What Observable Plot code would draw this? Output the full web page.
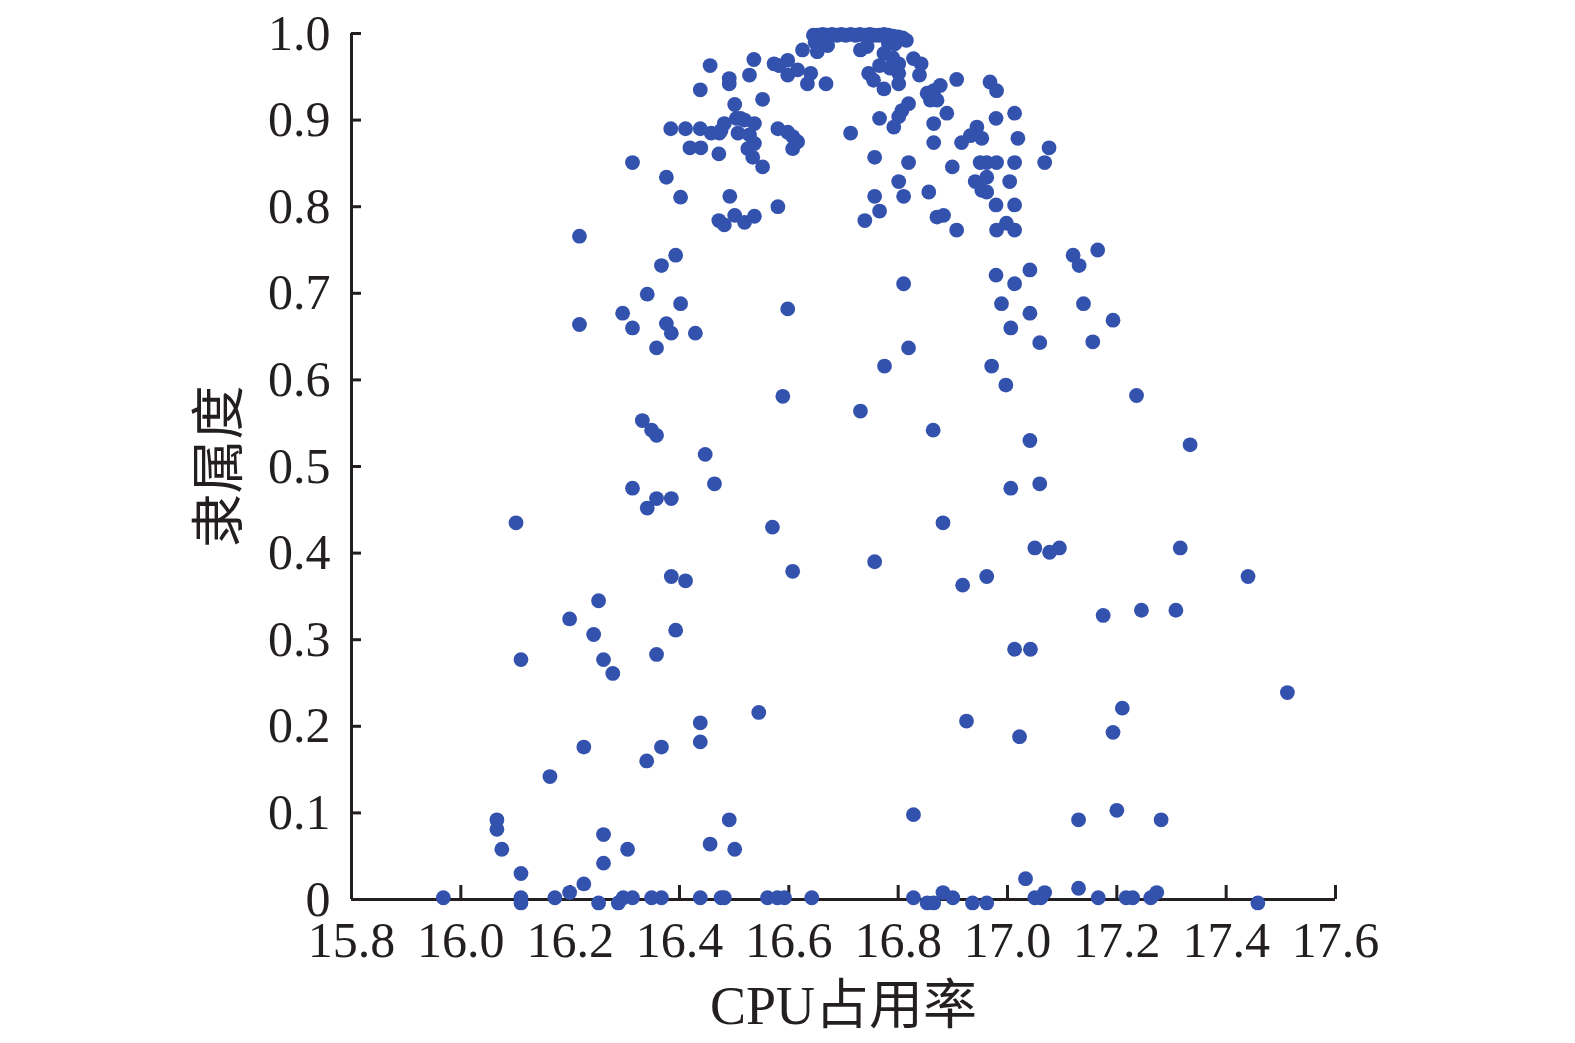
<!DOCTYPE html>
<html>
<head>
<meta charset="utf-8">
<script src="https://cdn.jsdelivr.net/npm/d3@7"></script>
<script src="https://cdn.jsdelivr.net/npm/@observablehq/plot@0.6"></script>
<style>
  html, body { margin: 0; padding: 0; background: #ffffff; }
  #chart svg [aria-label="x-axis label"] text,
  #chart svg [aria-label="y-axis label"] text { font-size: 54px; }
</style>
</head>
<body>
<div id="chart"></div>
<script>
const xLabel = "CPU占用率";
const yLabel = "隶属度";
const xTicks = [15.8, 16.0, 16.2, 16.4, 16.6, 16.8, 17.0, 17.2, 17.4, 17.6];
const xTickLabels = ["15.8", "16.0", "16.2", "16.4", "16.6", "16.8", "17.0", "17.2", "17.4", "17.6"];
const yTicks = [0, 0.1, 0.2, 0.3, 0.4, 0.5, 0.6, 0.7, 0.8, 0.9, 1.0];
const yTickLabels = ["0", "0.1", "0.2", "0.3", "0.4", "0.5", "0.6", "0.7", "0.8", "0.9", "1.0"];

// CPU usage (x) and membership degree (y)
const cpu = [
  15.968, 16.066, 16.066, 16.075, 16.101, 16.110, 16.110, 16.110, 16.110, 16.163,
  16.172, 16.199, 16.199, 16.217, 16.217, 16.225, 16.225, 16.243, 16.252, 16.252,
  16.261, 16.261, 16.261, 16.278, 16.288, 16.296, 16.297, 16.305, 16.314, 16.314,
  16.314, 16.314, 16.332, 16.341, 16.341, 16.340, 16.349, 16.358, 16.358, 16.358,
  16.358, 16.349, 16.367, 16.367, 16.367, 16.376, 16.376, 16.385, 16.384, 16.385,
  16.385, 16.393, 16.393, 16.402, 16.402, 16.411, 16.411, 16.419, 16.429, 16.438,
  16.438, 16.439, 16.438, 16.438, 16.438, 16.447, 16.456, 16.458, 16.456, 16.464,
  16.472, 16.473, 16.472, 16.476, 16.476, 16.482, 16.482, 16.482, 16.491, 16.491,
  16.492, 16.491, 16.501, 16.501, 16.501, 16.504, 16.507, 16.512, 16.519, 16.519,
  16.525, 16.528, 16.528, 16.534, 16.536, 16.537, 16.537, 16.537, 16.545, 16.552,
  16.552, 16.561, 16.570, 16.573, 16.579, 16.580, 16.580, 16.582, 16.589, 16.592,
  16.598, 16.598, 16.598, 16.598, 16.607, 16.607, 16.607, 16.616, 16.616, 16.625,
  16.634, 16.640, 16.642, 16.652, 16.668, 16.671,
  16.645, 16.653, 16.662, 16.670, 16.679, 16.688, 16.696, 16.704, 16.713, 16.722,
  16.730, 16.739, 16.748, 16.756, 16.765, 16.774, 16.782, 16.791, 16.800, 16.808,
  16.815, 16.731, 16.743, 16.648, 16.660, 16.782, 16.794,
  16.713, 16.731, 16.739, 16.746, 16.755, 16.757, 16.757, 16.757, 16.766, 16.766,
  16.766, 16.774, 16.774, 16.775, 16.785, 16.790, 16.792, 16.801, 16.801, 16.801,
  16.801, 16.801, 16.807, 16.810, 16.810, 16.819, 16.819, 16.819, 16.828, 16.828,
  16.828, 16.839, 16.842, 16.853, 16.853, 16.856, 16.859, 16.864, 16.865, 16.865,
  16.865, 16.865, 16.871, 16.871, 16.877, 16.882, 16.882, 16.883, 16.889, 16.899,
  16.900, 16.907, 16.907, 16.916, 16.918, 16.925, 16.932, 16.936, 16.941, 16.944,
  16.950, 16.953, 16.953, 16.962, 16.962, 16.962, 16.962, 16.962, 16.968, 16.971,
  16.979, 16.979, 16.979, 16.980, 16.980, 16.980, 16.989, 16.997, 16.998, 17.004,
  17.006, 17.006, 17.013, 17.019, 17.013, 17.013, 17.013, 17.013, 17.013, 17.022,
  17.033, 17.041, 17.041, 17.041, 17.042, 17.050, 17.050, 17.059, 17.059, 17.061,
  17.068, 17.068, 17.076, 17.077, 17.095, 17.120, 17.131, 17.130, 17.130, 17.139,
  17.156, 17.165, 17.166, 17.175, 17.193, 17.193, 17.200, 17.210, 17.217, 17.229,
  17.236, 17.245, 17.262, 17.273, 17.281, 17.308, 17.316, 17.334, 17.440, 17.458,
  17.512
];
const membership = [
  0.002, 0.092, 0.081, 0.058, 0.435, 0.277, 0.030, 0.002, -0.004, 0.142,
  0.002, 0.324, 0.008, 0.766, 0.664, 0.176, 0.018, 0.306, 0.345, -0.004,
  0.277, 0.075, 0.042, 0.261, -0.004, 0.677, 0.002, 0.058, 0.851, 0.660,
  0.475, 0.002, 0.553, 0.699, 0.452, 0.160, 0.542, 0.536, 0.637, 0.463,
  0.283, 0.002, 0.732, 0.176, 0.002, 0.834, 0.665, 0.654, 0.890, 0.463,
  0.373, 0.744, 0.311, 0.688, 0.811, 0.890, 0.368, 0.868, 0.654, 0.935,
  0.890, 0.868, 0.204, 0.182, 0.002, 0.514, 0.963, 0.885, 0.064, 0.480,
  0.861, 0.885, 0.784, 0.888, 0.002, 0.779, 0.896, 0.002, 0.948, 0.942,
  0.812, 0.092, 0.918, 0.790, 0.058, 0.902, 0.885, 0.902, 0.900, 0.782,
  0.867, 0.952, 0.883, 0.857, 0.970, 0.896, 0.873, 0.789, 0.216, 0.924,
  0.846, 0.002, 0.430, 0.965, 0.002, 0.890, 0.800, 0.963, 0.581, 0.002,
  0.969, 0.952, 0.886, 0.682, 0.881, 0.867, 0.379, 0.958, 0.875, 0.981,
  0.942, 0.954, 0.002, 0.979, 0.942, 0.986,
  0.998, 0.998, 0.999, 0.998, 0.999, 0.998, 0.999, 0.998, 0.999, 0.998,
  0.999, 0.998, 0.999, 0.998, 0.998, 0.999, 0.998, 0.997, 0.996, 0.995,
  0.992, 0.981, 0.985, 0.990, 0.991, 0.989, 0.988,
  0.885, 0.564, 0.784, 0.954, 0.946, 0.857, 0.812, 0.390, 0.963, 0.902,
  0.795, 0.977, 0.936, 0.616, 0.960, 0.972, 0.892, 0.942, 0.954, 0.965,
  0.904, 0.829, 0.911, 0.812, 0.711, 0.919, 0.851, 0.637, 0.971, 0.098,
  0.002, 0.952, 0.965, 0.931, -0.004, 0.817, 0.923, 0.542, 0.934, 0.896,
  0.874, -0.004, 0.923, 0.788, 0.940, 0.435, 0.008, 0.790, 0.908, 0.846,
  0.002, 0.947, 0.773, 0.874, 0.363, 0.206, 0.882, -0.004, 0.829, 0.892,
  0.851, 0.879, 0.819, 0.834, 0.817, 0.851, 0.373, -0.004, 0.944, 0.616,
  0.902, 0.802, 0.721, 0.934, 0.851, 0.773, 0.688, 0.594, 0.781, 0.829,
  0.660, 0.475, 0.908, 0.879, 0.851, 0.802, 0.773, 0.711, 0.289, 0.188,
  0.024, 0.727, 0.677, 0.530, 0.289, 0.406, 0.002, 0.643, 0.480, 0.002,
  0.851, 0.008, 0.868, 0.401, 0.406, 0.744, 0.732, 0.092, 0.013, 0.688,
  0.644, 0.750, 0.002, 0.328, 0.669, 0.193, 0.103, 0.221, 0.002, 0.002,
  0.582, 0.334, 0.002, 0.008, 0.092, 0.334, 0.406, 0.525, 0.373, -0.004,
  0.239
];

const data = cpu.map((x, i) => ({x, y: membership[i]}));
const ink = "#231f20";

const chart = Plot.plot({
  width: 1575,
  height: 1043,
  marginLeft: 351,
  marginRight: 240,
  marginTop: 33,
  marginBottom: 144,
  style: {
    fontFamily: "'Liberation Serif', 'Times New Roman', 'Noto Sans CJK SC', serif",
    fontSize: "50px",
    color: ink,
    background: "#ffffff",
    overflow: "visible"
  },
  x: {domain: [15.8, 17.6]},
  y: {domain: [0, 1]},
  marks: [
    Plot.axisX({
      ticks: xTicks, tickSize: 0, tickPadding: 22,
      tickFormat: d => xTickLabels[xTicks.indexOf(d)],
      label: xLabel, labelAnchor: "center", labelOffset: 124, labelArrow: "none"
    }),
    Plot.axisX({ticks: xTicks, tickSize: -14, fill: "none", label: null, strokeWidth: 3, stroke: ink}),
    Plot.axisY({
      ticks: yTicks, tickSize: 0, tickPadding: 21,
      tickFormat: d => yTickLabels[yTicks.indexOf(d)],
      label: yLabel, labelAnchor: "center", labelOffset: 152, labelArrow: "none"
    }),
    Plot.axisY({ticks: yTicks, tickSize: -10, fill: "none", label: null, strokeWidth: 3, stroke: ink}),
    Plot.ruleY([0], {stroke: ink, strokeWidth: 3}),
    Plot.ruleX([15.8], {stroke: ink, strokeWidth: 3}),
    Plot.dot(data, {x: "x", y: "y", r: 7.4, fill: "#3352ae", stroke: "none"})
  ]
});
document.getElementById("chart").appendChild(chart);
</script>
</body>
</html>
